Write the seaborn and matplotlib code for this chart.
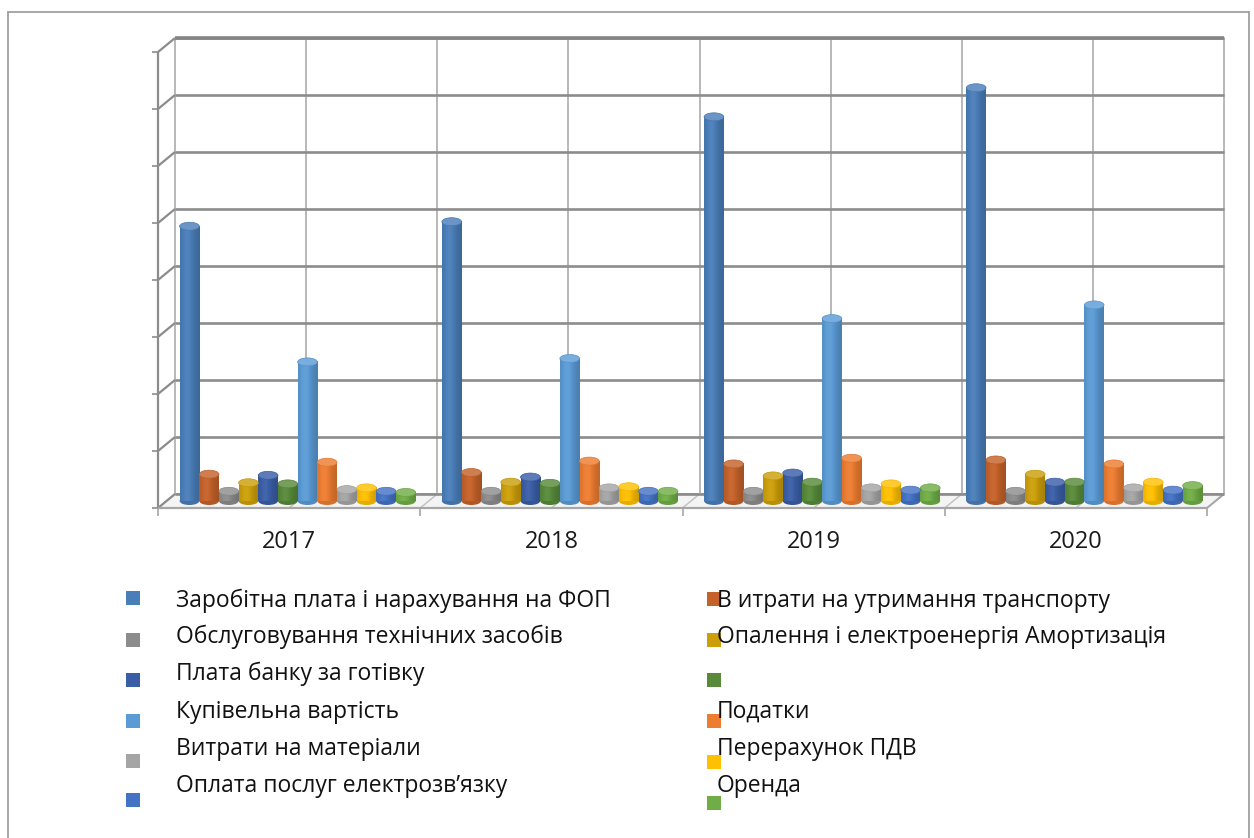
import numpy as np
import pandas as pd
import matplotlib
matplotlib.use("Agg")
import matplotlib.pyplot as plt
from matplotlib.patches import Ellipse, Polygon, Rectangle
from matplotlib.lines import Line2D
import seaborn as sns

# ---- data (тис. грн) ----
years = ["2017", "2018", "2019", "2020"]

series_names = [
    "Заробітна плата і нарахування на ФОП",
    "В итрати на утримання транспорту",
    "Обслуговування технічних засобів",
    "Опалення і електроенергія Амортизація",
    "Плата банку за готівку",
    "",
    "Купівельна вартість",
    "Податки",
    "Витрати на матеріали",
    "Перерахунок ПДВ",
    "Оплата послуг електрозв\u2019язку",
    "Оренда",
]

salary = [4820, 4900, 6740, 7250]
transport = [470, 500, 650, 720]
tech_service = [170, 170, 170, 170]
heating = [320, 330, 440, 470]
bank_fee = [450, 420, 490, 330]
unnamed = [300, 310, 330, 330]
purchase = [2440, 2500, 3200, 3440]
taxes = [680, 700, 750, 650]
materials = [200, 230, 230, 230]
vat = [230, 250, 300, 330]
telecom = [170, 170, 190, 190]
rent = [150, 170, 230, 270]

series_values = [salary, transport, tech_service, heating, bank_fee, unnamed,
                 purchase, taxes, materials, vat, telecom, rent]

colors = ["#4a7eb9", "#c5622a", "#8c8c8c", "#cc9f0a", "#3a5ea6", "#588a3a",
          "#5b9bd5", "#ed7d31", "#a5a5a5", "#ffc000", "#4472c4", "#70ad47"]

y_max = 8000
y_step = 1000

# ---- figure ----
W, H = 1254, 838
fig = plt.figure(figsize=(W / 100, H / 100), dpi=100)
fig.patch.set_facecolor("white")
sns.set_style("white")
FONT = ["Open Sans", "DejaVu Sans"]

# axes = the plane in which the bars stand (between the front and the back wall)
x0, x1 = 166.5, 1215.5
y_top, y_base = 45, 501
ax = fig.add_axes([x0 / W, 1 - y_base / H, (x1 - x0) / W, (y_base - y_top) / H])

keys = [f"s{i:02d}" for i in range(len(series_names))]
df = pd.DataFrame({
    "year": np.repeat([years], len(keys), axis=0).ravel(),
    "series": np.repeat(keys, len(years)),
    "value": np.concatenate(series_values),
})

sns.barplot(data=df, x="year", y="value", hue="series", hue_order=keys,
            order=years, palette=colors, width=0.9, gap=0, legend=False,
            linewidth=0, saturation=1, ax=ax, zorder=3)
ax.set_xlim(-0.5, len(years) - 0.5)
ax.set_ylim(0, y_max)
ax.axis("off")

DX, DY = 8.5, 7.0  # depth offset in pixels


def fpt(x, y, depth):
    """data point of the bar plane shifted to the back (+1) or front (-1) plane, in figure fraction"""
    px, py = ax.transData.transform((x, y))
    px += depth * DX
    py += depth * DY
    return fig.transFigure.inverted().transform((px, py))


def seg(p, q, color, lw, z):
    ax.add_line(Line2D([p[0], q[0]], [p[1], q[1]], transform=fig.transFigure,
                       color=color, lw=lw, zorder=z, clip_on=False,
                       solid_capstyle="butt"))


xl, xr = -0.5, len(years) - 0.5
levels = np.arange(0, y_max + 1, y_step)
halves = np.arange(xl, xr + 0.01, 0.5)

# floor
floor = [fpt(xl, 0, -1), fpt(xr, 0, -1), fpt(xr, 0, 1), fpt(xl, 0, 1)]
ax.add_patch(Polygon(floor, closed=True, transform=fig.transFigure,
                     facecolor="#f4f4f4", edgecolor="none", zorder=0.5, clip_on=False))
for hx in halves:
    seg(fpt(hx, 0, -1), fpt(hx, 0, 1), "#c4c4c4", 1.1, 0.6)
seg(fpt(xl, 0, 1), fpt(xr, 0, 1), "#a6a6a6", 1.4, 0.6)
seg(fpt(xr, 0, -1), fpt(xr, 0, 1), "#a6a6a6", 1.4, 0.6)

# back wall grid
for hx in halves:
    seg(fpt(hx, 0, 1), fpt(hx, y_max, 1), "#b8b8b8", 1.4, 0.7)
for lv in levels:
    seg(fpt(xl, lv, 1), fpt(xr, lv, 1), "#8c8c8c", 1.9, 0.8)
seg(fpt(xl, y_max, 1), fpt(xr, y_max, 1), "#858585", 2.6, 0.8)

# side wall grid and front value axis
for lv in levels:
    seg(fpt(xl, lv, -1), fpt(xl, lv, 1), "#8c8c8c", 1.6, 0.8)
    p = fpt(xl, lv, -1)
    seg((p[0] - 6 / W, p[1]), p, "#8c8c8c", 1.2, 0.8)
seg(fpt(xl, 0, -1), fpt(xl, y_max, -1), "#8c8c8c", 1.6, 0.8)

# front category axis
seg(fpt(xl, 0, -1), fpt(xr, 0, -1), "#a6a6a6", 1.6, 5)
for hx in np.arange(xl, xr + 0.01, 1.0):
    p = fpt(hx, 0, -1)
    seg(p, (p[0], p[1] - 8 / H), "#a6a6a6", 1.2, 5)
for i, yr in enumerate(years):
    p = fpt(i, 0, -1)
    fig.text(p[0], p[1] - 34 / H, yr, ha="center", va="center",
             fontsize=17, family=FONT, color="#1a1a1a")


# cylinder shading on every bar
def shade(c, k):
    c = np.asarray(c)
    if k <= 1:
        return c * k
    return c + (1 - c) * min(k - 1, 1)


t = np.linspace(0, 1, 80)
profile = 0.90 + 0.16 * np.exp(-((t - 0.38) / 0.28) ** 2) - 0.08 * t ** 2
cap_h = 8 * y_max / (y_base - y_top)

for cont, col in zip(ax.containers, colors):
    rgb = np.array(matplotlib.colors.to_rgb(col))
    for bar in cont:
        bx, bw, bh = bar.get_x(), bar.get_width(), bar.get_height()
        img = np.array([[shade(rgb, k) for k in profile]])
        ax.imshow(np.clip(img, 0, 1), extent=[bx, bx + bw, 0, bh],
                  aspect="auto", zorder=3.1, interpolation="bilinear",
                  clip_on=False)
        ax.add_patch(Ellipse((bx + bw / 2, 0), bw, cap_h,
                             facecolor=shade(rgb, 0.9), edgecolor="none",
                             zorder=2.9, clip_on=False))
        ax.add_patch(Ellipse((bx + bw / 2, bh), bw, cap_h,
                             facecolor=shade(rgb, 1.18), edgecolor=shade(rgb, 0.95),
                             linewidth=0.5, zorder=3.2, clip_on=False))

ax.set_xlim(-0.5, len(years) - 0.5)
ax.set_ylim(0, y_max)

# legend: two columns, read row by row
left_text_x, right_text_x = 176, 717
left_mark_x, right_mark_x = 126, 707
text_rows = [601, 637, 674, 712, 749, 786]
left_marks = [598, 640, 680, 721, 761, 800]
right_marks = [599, 640, 680, 721, 762, 803]
for i, (name, col) in enumerate(zip(series_names, colors)):
    r, c = divmod(i, 2)
    if c == 0:
        tx, mx, my = left_text_x, left_mark_x, left_marks[r]
    else:
        tx, mx, my = right_text_x, right_mark_x, right_marks[r]
    fig.patches.append(Rectangle((mx / W, 1 - (my + 7) / H), 14 / W, 14 / H,
                                 transform=fig.transFigure, facecolor=col,
                                 edgecolor="none", zorder=4))
    if name:
        fig.text(tx / W, 1 - text_rows[r] / H, name, ha="left", va="center",
                 fontsize=16.5, family=FONT, color="#111111", zorder=5)

# chart border
for p, q in [((8, 12), (1249, 12)), ((8, 12), (8, 840)), ((1249, 12), (1249, 840))]:
    fig.lines.append(Line2D([p[0] / W, q[0] / W], [1 - p[1] / H, 1 - q[1] / H],
                            transform=fig.transFigure, color="#a0a0a0", lw=1.3))

fig.savefig("out.png", dpi=100, facecolor="white")
